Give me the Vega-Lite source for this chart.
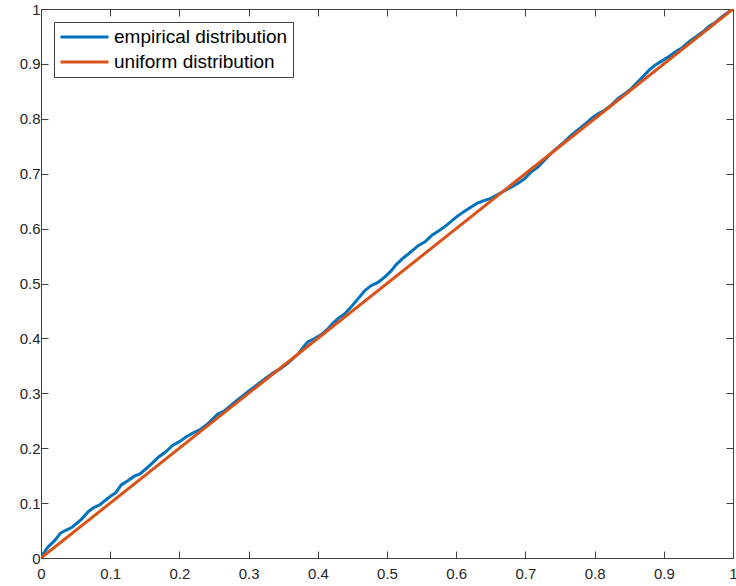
{
  "$schema": "https://vega.github.io/schema/vega-lite/v6.json",
  "width": 692,
  "height": 549,
  "autosize": {"type": "none"},
  "padding": {"left": 41, "top": 9, "right": 3, "bottom": 28},
  "background": "white",
  "datasets": {
    "empirical": [
      {"u": 0.000, "v": 0.000, "series": "empirical distribution"},
      {"u": 0.005, "v": 0.011, "series": "empirical distribution"},
      {"u": 0.010, "v": 0.020, "series": "empirical distribution"},
      {"u": 0.020, "v": 0.032, "series": "empirical distribution"},
      {"u": 0.028, "v": 0.045, "series": "empirical distribution"},
      {"u": 0.035, "v": 0.050, "series": "empirical distribution"},
      {"u": 0.045, "v": 0.056, "series": "empirical distribution"},
      {"u": 0.058, "v": 0.070, "series": "empirical distribution"},
      {"u": 0.068, "v": 0.084, "series": "empirical distribution"},
      {"u": 0.075, "v": 0.091, "series": "empirical distribution"},
      {"u": 0.085, "v": 0.097, "series": "empirical distribution"},
      {"u": 0.100, "v": 0.112, "series": "empirical distribution"},
      {"u": 0.108, "v": 0.119, "series": "empirical distribution"},
      {"u": 0.116, "v": 0.133, "series": "empirical distribution"},
      {"u": 0.126, "v": 0.141, "series": "empirical distribution"},
      {"u": 0.135, "v": 0.149, "series": "empirical distribution"},
      {"u": 0.143, "v": 0.153, "series": "empirical distribution"},
      {"u": 0.155, "v": 0.166, "series": "empirical distribution"},
      {"u": 0.170, "v": 0.184, "series": "empirical distribution"},
      {"u": 0.180, "v": 0.193, "series": "empirical distribution"},
      {"u": 0.190, "v": 0.205, "series": "empirical distribution"},
      {"u": 0.200, "v": 0.212, "series": "empirical distribution"},
      {"u": 0.210, "v": 0.221, "series": "empirical distribution"},
      {"u": 0.220, "v": 0.228, "series": "empirical distribution"},
      {"u": 0.230, "v": 0.234, "series": "empirical distribution"},
      {"u": 0.240, "v": 0.243, "series": "empirical distribution"},
      {"u": 0.255, "v": 0.262, "series": "empirical distribution"},
      {"u": 0.265, "v": 0.268, "series": "empirical distribution"},
      {"u": 0.280, "v": 0.284, "series": "empirical distribution"},
      {"u": 0.300, "v": 0.304, "series": "empirical distribution"},
      {"u": 0.320, "v": 0.323, "series": "empirical distribution"},
      {"u": 0.335, "v": 0.337, "series": "empirical distribution"},
      {"u": 0.345, "v": 0.344, "series": "empirical distribution"},
      {"u": 0.357, "v": 0.355, "series": "empirical distribution"},
      {"u": 0.371, "v": 0.371, "series": "empirical distribution"},
      {"u": 0.381, "v": 0.387, "series": "empirical distribution"},
      {"u": 0.386, "v": 0.394, "series": "empirical distribution"},
      {"u": 0.396, "v": 0.400, "series": "empirical distribution"},
      {"u": 0.405, "v": 0.407, "series": "empirical distribution"},
      {"u": 0.415, "v": 0.418, "series": "empirical distribution"},
      {"u": 0.422, "v": 0.428, "series": "empirical distribution"},
      {"u": 0.429, "v": 0.436, "series": "empirical distribution"},
      {"u": 0.439, "v": 0.445, "series": "empirical distribution"},
      {"u": 0.448, "v": 0.457, "series": "empirical distribution"},
      {"u": 0.458, "v": 0.472, "series": "empirical distribution"},
      {"u": 0.468, "v": 0.487, "series": "empirical distribution"},
      {"u": 0.477, "v": 0.496, "series": "empirical distribution"},
      {"u": 0.487, "v": 0.502, "series": "empirical distribution"},
      {"u": 0.497, "v": 0.512, "series": "empirical distribution"},
      {"u": 0.506, "v": 0.523, "series": "empirical distribution"},
      {"u": 0.513, "v": 0.534, "series": "empirical distribution"},
      {"u": 0.523, "v": 0.546, "series": "empirical distribution"},
      {"u": 0.535, "v": 0.558, "series": "empirical distribution"},
      {"u": 0.545, "v": 0.569, "series": "empirical distribution"},
      {"u": 0.555, "v": 0.576, "series": "empirical distribution"},
      {"u": 0.565, "v": 0.588, "series": "empirical distribution"},
      {"u": 0.575, "v": 0.596, "series": "empirical distribution"},
      {"u": 0.585, "v": 0.605, "series": "empirical distribution"},
      {"u": 0.600, "v": 0.621, "series": "empirical distribution"},
      {"u": 0.610, "v": 0.630, "series": "empirical distribution"},
      {"u": 0.620, "v": 0.638, "series": "empirical distribution"},
      {"u": 0.630, "v": 0.646, "series": "empirical distribution"},
      {"u": 0.640, "v": 0.651, "series": "empirical distribution"},
      {"u": 0.650, "v": 0.655, "series": "empirical distribution"},
      {"u": 0.660, "v": 0.662, "series": "empirical distribution"},
      {"u": 0.670, "v": 0.669, "series": "empirical distribution"},
      {"u": 0.680, "v": 0.676, "series": "empirical distribution"},
      {"u": 0.689, "v": 0.682, "series": "empirical distribution"},
      {"u": 0.699, "v": 0.691, "series": "empirical distribution"},
      {"u": 0.709, "v": 0.704, "series": "empirical distribution"},
      {"u": 0.718, "v": 0.712, "series": "empirical distribution"},
      {"u": 0.728, "v": 0.725, "series": "empirical distribution"},
      {"u": 0.737, "v": 0.737, "series": "empirical distribution"},
      {"u": 0.747, "v": 0.748, "series": "empirical distribution"},
      {"u": 0.757, "v": 0.759, "series": "empirical distribution"},
      {"u": 0.766, "v": 0.770, "series": "empirical distribution"},
      {"u": 0.778, "v": 0.782, "series": "empirical distribution"},
      {"u": 0.786, "v": 0.790, "series": "empirical distribution"},
      {"u": 0.795, "v": 0.800, "series": "empirical distribution"},
      {"u": 0.805, "v": 0.809, "series": "empirical distribution"},
      {"u": 0.815, "v": 0.816, "series": "empirical distribution"},
      {"u": 0.824, "v": 0.825, "series": "empirical distribution"},
      {"u": 0.834, "v": 0.837, "series": "empirical distribution"},
      {"u": 0.843, "v": 0.845, "series": "empirical distribution"},
      {"u": 0.853, "v": 0.855, "series": "empirical distribution"},
      {"u": 0.863, "v": 0.868, "series": "empirical distribution"},
      {"u": 0.870, "v": 0.877, "series": "empirical distribution"},
      {"u": 0.879, "v": 0.889, "series": "empirical distribution"},
      {"u": 0.889, "v": 0.899, "series": "empirical distribution"},
      {"u": 0.898, "v": 0.906, "series": "empirical distribution"},
      {"u": 0.908, "v": 0.914, "series": "empirical distribution"},
      {"u": 0.918, "v": 0.923, "series": "empirical distribution"},
      {"u": 0.927, "v": 0.930, "series": "empirical distribution"},
      {"u": 0.937, "v": 0.941, "series": "empirical distribution"},
      {"u": 0.946, "v": 0.949, "series": "empirical distribution"},
      {"u": 0.956, "v": 0.958, "series": "empirical distribution"},
      {"u": 0.966, "v": 0.969, "series": "empirical distribution"},
      {"u": 0.975, "v": 0.976, "series": "empirical distribution"},
      {"u": 0.985, "v": 0.987, "series": "empirical distribution"},
      {"u": 0.995, "v": 0.996, "series": "empirical distribution"},
      {"u": 1.000, "v": 1.000, "series": "empirical distribution"}
    ],
    "uniform": [
      {"u": 0, "v": 0, "series": "uniform distribution"},
      {"u": 1, "v": 1, "series": "uniform distribution"}
    ]
  },
  "config": {
    "view": {"stroke": null},
    "font": "Liberation Sans",
    "axis": {
      "grid": false,
      "domainColor": "#404040",
      "domainWidth": 1,
      "tickColor": "#404040",
      "tickWidth": 1,
      "tickSize": -7,
      "labelColor": "#262626",
      "labelFont": "Liberation Sans",
      "labelFontSize": 15,
      "labelFlush": false,
      "labelOverlap": false,
      "title": null
    }
  },
  "layer": [
    {
      "data": {"name": "empirical"},
      "mark": {"type": "line", "strokeWidth": 3, "clip": true},
      "encoding": {
        "x": {"field": "u", "type": "quantitative", "scale": {"domain": [0, 1], "nice": false, "zero": false},
              "axis": {"orient": "bottom", "values": [0, 0.1, 0.2, 0.3, 0.4, 0.5, 0.6, 0.7, 0.8, 0.9, 1], "format": "~g", "labelPadding": 15}},
        "y": {"field": "v", "type": "quantitative", "scale": {"domain": [0, 1], "nice": false, "zero": false},
              "axis": {"orient": "left", "values": [0, 0.1, 0.2, 0.3, 0.4, 0.5, 0.6, 0.7, 0.8, 0.9, 1], "format": "~g", "labelPadding": 8}},
        "color": {"field": "series", "type": "nominal",
                  "scale": {"domain": ["empirical distribution", "uniform distribution"], "range": ["#0072BD", "#D95319"]},
                  "legend": {"orient": "none", "legendX": 13, "legendY": 13, "title": null,
                             "symbolType": "stroke", "symbolSize": 2304, "symbolStrokeWidth": 3,
                             "clipHeight": 20, "rowPadding": 5, "padding": 5, "labelOffset": 4,
                             "labelFont": "Liberation Sans", "labelFontSize": 19, "labelColor": "#000000", "labelLimit": 400,
                             "strokeColor": "#404040", "fillColor": "white", "cornerRadius": 0}}
      }
    },
    {
      "data": {"name": "uniform"},
      "mark": {"type": "line", "strokeWidth": 3, "clip": true},
      "encoding": {
        "x": {"field": "u", "type": "quantitative", "scale": {"domain": [0, 1], "nice": false, "zero": false},
              "axis": {"orient": "top", "values": [0, 0.1, 0.2, 0.3, 0.4, 0.5, 0.6, 0.7, 0.8, 0.9, 1], "labels": false}},
        "y": {"field": "v", "type": "quantitative", "scale": {"domain": [0, 1], "nice": false, "zero": false},
              "axis": {"orient": "right", "values": [0, 0.1, 0.2, 0.3, 0.4, 0.5, 0.6, 0.7, 0.8, 0.9, 1], "labels": false}},
        "color": {"field": "series", "type": "nominal"}
      }
    }
  ],
  "resolve": {"axis": {"x": "independent", "y": "independent"}}
}
